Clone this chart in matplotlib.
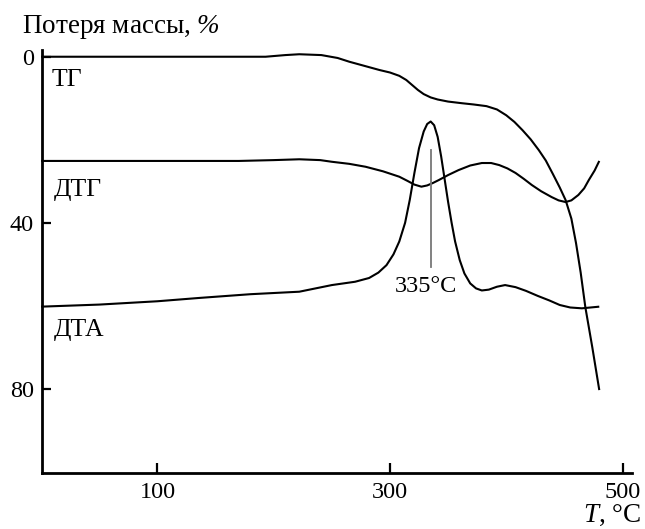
import numpy as np
import matplotlib
matplotlib.use("Agg")
import matplotlib.pyplot as plt

plt.rcParams['font.family'] = ['Liberation Serif', 'DejaVu Serif']
plt.rcParams['mathtext.fontset'] = 'custom'
plt.rcParams['mathtext.rm'] = 'Liberation Serif:italic'
plt.rcParams['mathtext.it'] = 'Liberation Serif:italic'

# -------------------------
# Curves (T in °C, value on the mass-loss scale)
# -------------------------
tg_t = [0, 100, 193, 210, 222, 241, 255, 265, 278, 291, 300, 308, 314, 319,
        324, 329, 335, 341, 350, 362, 372, 383, 392, 400, 407, 414, 421, 428,
        434, 440, 446, 451, 456, 460, 464, 468, 474, 480]
tg_v = [0, 0, 0, -0.4, -0.6, -0.4, 0.3, 1.2, 2.2, 3.2, 3.8, 4.6, 5.6, 6.8,
        8.0, 9.0, 9.8, 10.3, 10.8, 11.2, 11.5, 11.9, 12.7, 14.1, 15.7, 17.7,
        19.9, 22.5, 25.0, 28.2, 31.5, 34.5, 39.0, 44.9, 52.0, 60.3, 70.0, 80.3]

dtg_t = [0, 100, 170, 200, 222, 240, 250, 265, 279, 294, 308, 315, 321, 327,
         332, 337, 342, 350, 359, 369, 379, 387, 394, 401, 408, 415, 422, 430,
         439, 445, 451, 456, 462, 467, 471, 476, 480]
dtg_v = [25.1, 25.1, 25.1, 24.9, 24.7, 24.9, 25.3, 25.8, 26.5, 27.6, 28.9,
         29.9, 30.8, 31.3, 31.0, 30.4, 29.7, 28.5, 27.3, 26.2, 25.6, 25.6,
         26.1, 26.9, 28.0, 29.4, 30.9, 32.4, 33.8, 34.6, 35.0, 34.6, 33.3,
         31.7, 29.7, 27.4, 25.1]

dta_t = [0, 50, 100, 136, 180, 222, 250, 270, 282, 290, 297, 303, 308, 313,
         317, 321, 325, 329, 332, 335, 338, 341, 344, 347, 350, 353, 356, 360,
         364, 369, 374, 379, 385, 392, 399, 408, 417, 427, 437, 446, 455, 465,
         480]
dta_v = [60.2, 59.7, 58.9, 58.1, 57.2, 56.6, 55.0, 54.2, 53.3, 52.0, 50.2,
         47.6, 44.5, 40.0, 34.5, 28.0, 22.0, 18.0, 16.2, 15.6, 16.5, 19.3,
         24.0, 29.5, 35.0, 40.0, 44.5, 49.0, 52.2, 54.6, 55.8, 56.3, 56.1,
         55.4, 55.0, 55.5, 56.4, 57.6, 58.7, 59.8, 60.4, 60.6, 60.2]

peak_t = 335
peak_marker = (22.5, 50.6)

x_ticks = [100, 300, 500]
y_ticks = [0, 40, 80]

FS = 17.5
FS_LBL = 18.5

fig = plt.figure(figsize=(6.45, 5.29), dpi=100)
ax = fig.add_axes([0.0656, 0.1064, 0.914, 0.7989])

for t, v in [(tg_t, tg_v), (dtg_t, dtg_v), (dta_t, dta_v)]:
    ax.plot(t, v, color='black', lw=1.5, clip_on=False, solid_capstyle='butt')

# peak marker
ax.plot([peak_t, peak_t], peak_marker, color='#777777', lw=1.3)
ax.text(peak_t - 4, 55.3, f"{peak_t}°C", fontsize=FS, ha='center', va='center')

# curve names
ax.text(9, 5.6, "ТГ", fontsize=FS_LBL, va='center', ha='left')
ax.text(11, 32.1, "ДТГ", fontsize=FS_LBL, va='center', ha='left')
ax.text(11, 65.9, "ДТА", fontsize=FS_LBL, va='center', ha='left')

ax.set_xlim(1, 508)
ax.set_ylim(100.2, -1.6)
ax.set_xticks(x_ticks)
ax.set_yticks(y_ticks)
ax.tick_params(axis='both', direction='in', labelsize=FS, width=1.6)
ax.tick_params(axis='x', length=7.2, pad=7)
ax.tick_params(axis='y', length=6.5, pad=6)
for s in ['top', 'right']:
    ax.spines[s].set_visible(False)
for s in ['left', 'bottom']:
    ax.spines[s].set_linewidth(2.0)

fig.text(22 / 645, 1 - 27 / 529, r"Потеря массы, $\%$", fontsize=19.5,
         ha='left', va='center')
fig.text(641 / 645, 1 - 515 / 529, r"$T$, °C", fontsize=19.5, ha='right', va='center')

fig.savefig("out.png", dpi=100)
